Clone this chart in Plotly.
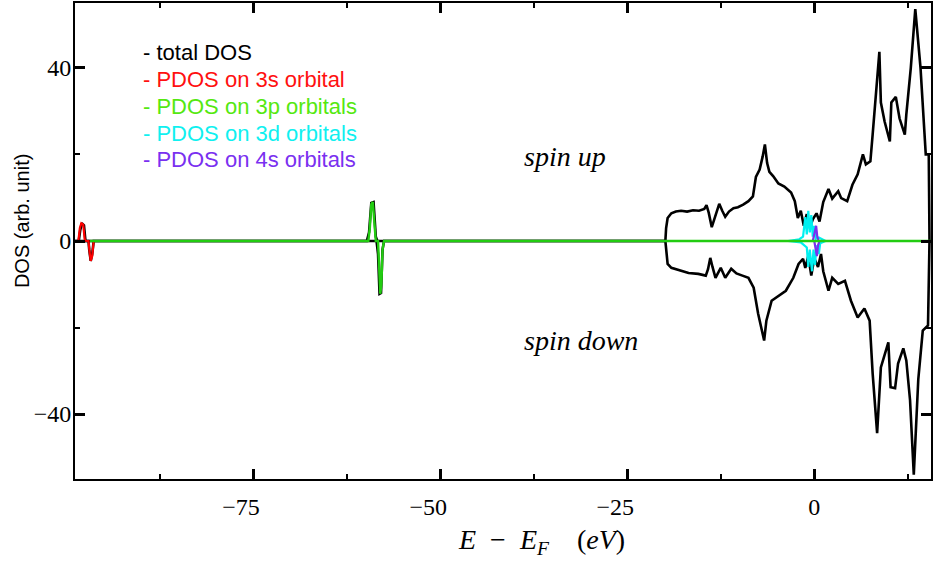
import plotly.graph_objects as go

# total DOS, spin up (E in eV, DOS in arb. unit)
total_up_e = [-98.8, -98.3, -98.1, -97.9, -97.6, -97.4, -59.8, -59.5, -59.2, -58.9, -58.6, -58.4,
              -19.9, -19.8, -19.6, -19.1, -18.5, -17.8, -17.0, -16.2, -15.4, -14.7, -14.4, -14.1,
              -13.7, -13.3, -12.7, -12.3, -11.9, -11.4, -10.8, -10.2, -9.5, -8.8, -8.2, -7.8, -7.3,
              -6.9, -6.6, -6.3, -6.0, -5.5, -4.8, -4.0, -3.1, -2.6, -2.2, -1.8, -1.4, -1.0, -0.6,
              -0.2, 0.3, 0.7, 1.2, 1.9, 2.4, 3.2, 3.6, 4.4, 5.1, 5.8, 6.5, 6.9, 7.5, 7.8, 8.1, 8.7,
              8.9, 9.4, 10.1, 10.3, 10.9, 11.4, 12.1, 12.3, 12.9, 13.5, 14.2, 14.6, 14.9, 15.3, 15.4, 15.6]
total_up = [0, 0, 2.5, 4.1, 3.6, 0, 0, 2.0, 8.8, 9.0, 1.0, 0,
            0, 3.0, 5.3, 6.4, 6.8, 7.0, 6.8, 7.1, 7.0, 7.4, 8.3, 6.5,
            3.2, 5.5, 8.6, 7.0, 5.6, 6.8, 7.6, 7.8, 8.4, 9.2, 10.3, 14.8, 16.5,
            19.5, 22.3, 18.0, 16.0, 15.0, 13.3, 12.6, 11.2, 9.2, 5.3, 7.0, 3.5, 6.2, 3.0,
            5.0, 6.4, 4.5, 9.0, 12.0, 9.8, 11.5, 9.9, 9.2, 13.0, 15.4, 20.0, 17.7, 18.4, 24.6, 30.6, 43.7,
            32.0, 27.6, 23.0, 32.0, 33.3, 28.3, 24.6, 29.2, 40.0, 53.6, 40.0, 28.3, 20.0, 20.0, 0, 0]

# total DOS, spin down
total_dn_e = [-98.8, -97.0, -96.9, -96.7, -96.5, -96.3, -58.5, -58.3, -58.1, -57.9, -57.7, -57.5,
              -19.9, -19.8, -19.6, -19.1, -18.0, -16.8, -15.5, -14.5, -14.2, -13.9, -13.6, -13.2,
              -12.5, -11.9, -11.1, -10.4, -9.6, -8.8, -8.1, -7.5, -6.7, -6.4, -5.7, -3.8, -2.8,
              -2.1, -1.5, -1.2, -0.8, -0.4, 0.0, 0.5, 0.9, 1.2, 1.9, 2.4, 3.2, 4.1, 4.9, 5.8, 6.7,
              7.4, 7.8, 8.4, 8.9, 9.9, 10.2, 10.8, 11.2, 11.9, 12.3, 12.8, 13.3, 13.9, 14.5, 15.2, 15.4, 15.6]
total_dn = [0, 0, -2.0, -4.6, -3.0, 0, 0, -3.0, -12.2, -12.0, -2.0, 0,
            0, -2.0, -5.3, -6.2, -6.8, -7.4, -7.6, -8.0, -6.5, -3.9, -6.0, -8.5,
            -6.2, -8.5, -6.4, -7.5, -8.0, -8.5, -10.8, -16.8, -23.0, -18.4, -13.8, -11.5, -8.5,
            -5.3, -4.1, -6.2, -3.5, -8.0, -4.0, -6.0, -3.0, -7.0, -11.5, -8.5, -9.9, -9.2, -13.8, -17.7, -15.6,
            -18.4, -30.6, -44.4, -29.2, -23.4, -33.8, -34.0, -28.3, -24.8, -27.6, -36.8, -54.0, -32.0, -20.7, -19.5, 0, 0]

# PDOS on 3s orbital
s3_e = [-98.8, -98.35, -98.15, -97.95, -97.7, -97.5, -97.3, -97.0, -96.85, -96.7, -96.5, -96.3, -96.0]
s3 = [0, 0, 3.0, 4.1, 3.8, 0.3, 0, 0, -2.5, -4.6, -3.5, 0, 0]

# PDOS on 3p orbitals
p3_e = [-96.8, -59.6, -59.4, -59.2, -59.0, -58.8, -58.6, -58.3, -58.15, -58.0, -57.85, -57.7, -57.5, 15.6]
p3 = [0, 0, 3.0, 8.5, 9.0, 4.0, 0, 0, -6.0, -12.2, -10.0, -2.0, 0, 0]

# PDOS on 3d orbitals (up / down)
d3_up_e = [-3.5, -2.0, -1.5, -1.2, -1.0, -0.8, -0.6, -0.4, -0.2, 0.0, 0.2, 0.6, 1.5]
d3_up = [0, 0.4, 1.0, 5.5, 1.5, 7.0, 2.0, 6.0, 1.0, 3.5, 0.5, 0.8, 0]
d3_dn_e = [-3.5, -1.8, -1.0, -0.8, -0.6, -0.3, -0.1, 0.1, 0.3, 0.6, 0.8, 1.5]
d3_dn = [0, -0.3, -1.5, -6.0, -2.0, -7.0, -2.0, -5.5, -1.0, -3.0, -0.5, 0]

# PDOS on 4s orbitals (up / down)
s4_up_e = [-0.2, 0.1, 0.25, 0.4, 0.6]
s4_up = [0, 2.5, 3.5, 1.0, 0]
s4_dn_e = [0.0, 0.2, 0.35, 0.5, 0.7]
s4_dn = [0, -2.5, -3.5, -1.0, 0]

x_ticks = [-75, -50, -25, 0]
y_ticks = [-40, 0, 40]
legend_labels = ["total DOS", "PDOS on 3s orbital", "PDOS on 3p orbitals",
                 "PDOS on 3d orbitals", "PDOS on 4s orbitals"]
legend_colors = ["#000000", "#ff1010", "#55e810", "#10f0f0", "#7a30f0"]

fig = go.Figure()


def add_line(x, y, color, width):
    fig.add_trace(go.Scatter(x=x, y=y, mode="lines", line=dict(color=color, width=width),
                             showlegend=False, hoverinfo="skip"))


add_line(total_up_e, total_up, "#000000", 2.6)
add_line(total_dn_e, total_dn, "#000000", 2.6)
add_line(s3_e, s3, "#ff0000", 2.2)
add_line(d3_up_e, d3_up, "#00f0f0", 2.2)
add_line(d3_dn_e, d3_dn, "#00f0f0", 2.2)
add_line(s4_up_e, s4_up, "#7a30f0", 2.2)
add_line(s4_dn_e, s4_dn, "#7a30f0", 2.2)
add_line(p3_e, p3, "#22cc11", 2.4)

serif = "Liberation Serif"
sans = "Liberation Sans"

pad = "\u00a0\u00a0\u00a0\u00a0"
fig.update_xaxes(
    range=[-98.8, 15.6],
    tickvals=x_ticks,
    ticktext=[("\u2212" + str(abs(v)) + pad) if v < 0 else str(v) for v in x_ticks],
    ticks="inside", ticklen=10, tickwidth=2.5, tickcolor="black",
    minor=dict(ticks="inside", ticklen=5, tickwidth=2, tickcolor="black", dtick=12.5, tick0=0),
    showline=True, linewidth=2, linecolor="black", mirror="ticks",
    showgrid=False, zeroline=False, ticklabelstandoff=5,
    tickfont=dict(family=serif, size=24, color="black"),
)
fig.update_yaxes(
    range=[-55, 55],
    tickvals=y_ticks,
    ticktext=[("\u2212" + str(abs(v))) if v < 0 else str(v) for v in y_ticks],
    ticks="inside", ticklen=10, tickwidth=2.5, tickcolor="black",
    minor=dict(ticks="inside", ticklen=5, tickwidth=2, tickcolor="black", dtick=20, tick0=0),
    showline=True, linewidth=2, linecolor="black", mirror="ticks",
    showgrid=False, zeroline=False, ticklabelstandoff=-3,
    tickfont=dict(family=serif, size=24, color="black"),
)

# legend drawn as coloured text lines
for i, (lab, col) in enumerate(zip(legend_labels, legend_colors)):
    fig.add_annotation(x=(141 - 75) / 858, y=(479 - 53 - i * 26.7) / 476, xref="paper", yref="paper",
                       text="- " + lab, showarrow=False, xanchor="left", yanchor="middle",
                       font=dict(family=sans, size=22, color=col))

fig.add_annotation(x=-39, y=19.5, text="<i>spin up</i>", showarrow=False, xanchor="left",
                   yanchor="middle", font=dict(family=serif, size=28, color="black"))
fig.add_annotation(x=-39, y=-23, text="<i>spin down</i>", showarrow=False, xanchor="left",
                   yanchor="middle", font=dict(family=serif, size=28, color="black"))

fig.add_annotation(x=(543 - 75) / 858, y=(479 - 541) / 476, xref="paper", yref="paper",
                   text="<i>E</i>\u00a0\u00a0\u2212\u00a0\u00a0<i>E<sub>F</sub></i>\u00a0\u00a0\u00a0\u00a0(<i>eV</i>)",
                   showarrow=False, xanchor="center", yanchor="middle",
                   font=dict(family=serif, size=28, color="black"))
fig.add_annotation(x=(22 - 75) / 858, y=(479 - 221) / 476, xref="paper", yref="paper",
                   text="DOS (arb. unit)", textangle=-90, showarrow=False,
                   xanchor="center", yanchor="middle", font=dict(family=sans, size=20, color="black"))

fig.update_layout(
    width=933, height=567,
    margin=dict(l=75, r=0, t=3, b=88),
    paper_bgcolor="white", plot_bgcolor="white",
    showlegend=False,
)

fig.write_html("out.html", config={"displayModeBar": False},
               post_script="document.body.style.margin='0';")
